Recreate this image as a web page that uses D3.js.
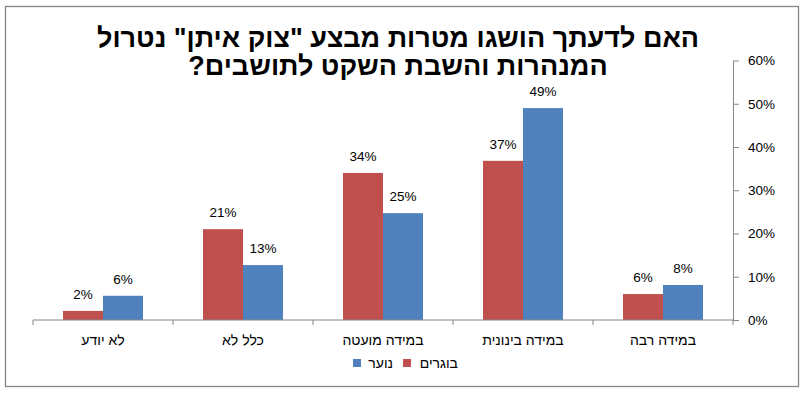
<!DOCTYPE html>
<html>
<head>
<meta charset="utf-8">
<script src="https://cdn.jsdelivr.net/npm/d3@7"></script>
<style>
  body { margin: 0; background: #fff; }
  text { font-family: "Liberation Sans", Arial, sans-serif; }
</style>
</head>
<body>
<svg width="807" height="395"></svg>
<script>
const width = 807, height = 395

// categories left to right as drawn (chart is RTL)
const categories = ["לא יודע", "כלל לא", "במידה מועטה", "במידה בינונית", "במידה רבה"]
const seriesNames = ["בוגרים", "נוער"]
const adults = [0.021, 0.21, 0.34, 0.368, 0.06]
const youth = [0.056, 0.127, 0.247, 0.49, 0.081]
const yTicks = [0, 0.1, 0.2, 0.3, 0.4, 0.5, 0.6]
const colors = ["#C0504D", "#4F81BD"]
const titleLines = ["האם לדעתך הושגו מטרות מבצע \"צוק איתן\" נטרול", "המנהרות והשבת השקט לתושבים?"]

const axisColor = "#868686"
let plot = {left: 33, right: 733, top: 60.5, bottom: 320}

let svg = d3.select("svg")

// outer border
svg.append("rect")
  .attr("x", 5.5).attr("y", 6.5)
  .attr("width", 793).attr("height", 380)
  .attr("fill", "white")
  .attr("stroke", axisColor)
  .attr("stroke-width", 1.3)

// title
svg.append("g").selectAll("text")
  .data(titleLines)
  .enter().append("text")
  .attr("x", 398)
  .attr("y", (d, i) => 47 + i * 28)
  .attr("text-anchor", "middle")
  .attr("direction", "rtl")
  .attr("font-size", "27px")
  .attr("font-weight", "bold")
  .text(d => d)

const x = d3.scaleBand().domain(categories).range([plot.left, plot.right])
const xInner = d3.scaleBand().domain(seriesNames).range([30, 110])
const y = d3.scaleLinear().domain([0, 0.6]).range([plot.bottom, plot.top])

// y axis on the right
let yAxis = svg.append("g")
  .attr("transform", `translate(${plot.right},0)`)
  .call(d3.axisRight(y).tickValues(yTicks).tickFormat(d3.format(".0%")).tickSize(6).tickSizeOuter(0).tickPadding(9))
yAxis.select(".domain").attr("stroke", axisColor)
yAxis.selectAll(".tick line").attr("stroke", axisColor)
yAxis.selectAll("text").attr("font-size", "13.5px").attr("fill", "#000").style("font-family", "Liberation Sans, Arial, sans-serif")

// bars
const table = categories.map((c, i) => ({cat: c, values: [adults[i], youth[i]]}))
let groups = svg.append("g").selectAll("g")
  .data(table)
  .enter().append("g")
  .attr("transform", d => `translate(${x(d.cat)},0)`)

groups.selectAll("rect")
  .data(d => d.values.map((v, j) => ({name: seriesNames[j], v: v, j: j})))
  .enter().append("rect")
  .attr("x", d => xInner(d.name))
  .attr("width", xInner.bandwidth())
  .attr("y", d => y(d.v))
  .attr("height", d => y(0) - y(d.v))
  .attr("fill", d => colors[d.j])

groups.selectAll("text")
  .data(d => d.values.map((v, j) => ({name: seriesNames[j], v: v, j: j})))
  .enter().append("text")
  .attr("x", d => xInner(d.name) + xInner.bandwidth() / 2)
  .attr("y", d => y(d.v) - 12)
  .attr("text-anchor", "middle")
  .attr("font-size", "13.5px")
  .text(d => d3.format(".0%")(d.v))

// category axis
svg.append("line")
  .attr("x1", plot.left).attr("x2", plot.right)
  .attr("y1", plot.bottom).attr("y2", plot.bottom)
  .attr("stroke", axisColor)
const edges = categories.map(c => x(c)).concat([plot.right])
svg.append("g").selectAll("line")
  .data(edges)
  .enter().append("line")
  .attr("x1", d => d).attr("x2", d => d)
  .attr("y1", plot.bottom).attr("y2", plot.bottom + 5)
  .attr("stroke", axisColor)
svg.append("g").selectAll("text")
  .data(categories)
  .enter().append("text")
  .attr("x", d => x(d) + x.bandwidth() / 2)
  .attr("y", 345)
  .attr("text-anchor", "middle")
  .attr("direction", "rtl")
  .attr("font-size", "14px")
  .text(d => d)

// legend: marker left of text, read right to left
const legendItems = [
  {name: seriesNames[1], color: colors[1], box: 353, text: 393},
  {name: seriesNames[0], color: colors[0], box: 403, text: 458}
]
let legend = svg.append("g")
legend.selectAll("rect")
  .data(legendItems)
  .enter().append("rect")
  .attr("x", d => d.box).attr("y", 359)
  .attr("width", 8).attr("height", 8)
  .attr("fill", d => d.color)
legend.selectAll("text")
  .data(legendItems)
  .enter().append("text")
  .attr("x", d => d.text)
  .attr("y", 368)
  .attr("text-anchor", "end")
  .attr("font-size", "14px")
  .text(d => d.name)
</script>
</body>
</html>
